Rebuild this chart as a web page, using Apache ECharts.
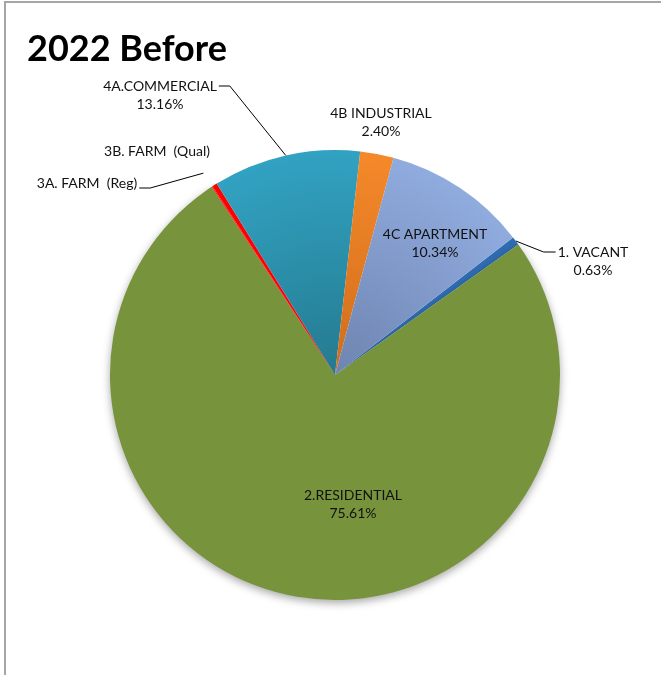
<!DOCTYPE html>
<html>
<head>
<meta charset="utf-8">
<script src="https://cdn.jsdelivr.net/npm/echarts@6/dist/echarts.min.js"></script>
<style>
  html, body { margin: 0; padding: 0; background: #fff; }
  #pieChart { width: 661px; height: 675px; }
  .frame {
    position: absolute; left: 4px; top: 1px; width: 700px; height: 700px;
    border-top: 2px solid #a6a6a6; border-left: 2px solid #a6a6a6;
    pointer-events: none;
  }
</style>
</head>
<body>
<div id="pieChart"></div>
<div class="frame"></div>
<script>
// slices in drawing order (clockwise), sizes
const categories = ['1. VACANT', '2.RESIDENTIAL', '3A. FARM  (Reg)', '3B. FARM  (Qual)', '4A.COMMERCIAL', '4B INDUSTRIAL', '4C APARTMENT']
const values = [0.63, 75.61, 0.08, 0.35, 10.6, 2.4, 10.34]
// percentage text printed on the chart (as shown, not recomputed)
const percentLabels = ['0.63%', '75.61%', '', '', '13.16%', '2.40%', '10.34%']

const center = [335, 375]
const radius = 225

// label block centers + which ones get a leader line ('left' = line leaves on the right of text)
const labelCenters = [[593, 261], [353, 504], [87, 183], [157, 151], [160, 95], [381, 122], [435, 243]]
const leaderSide = ['right', null, 'left', null, 'left', null, null]
const leaderGap = [0, 0, 16, 0, 0, 0, 0]

function shade(inner, outer) {
  return new echarts.graphic.RadialGradient(center[0], center[1], radius, [
    { offset: 0, color: inner },
    { offset: 1, color: outer },
  ], true)
}

const colors = [
  '#2f6db3',
  '#77933c',
  '#ff1a1a',
  '#ff0000',
  shade('#247a8f', '#32a2c2'),
  shade('#cf6d1c', '#f5892a'),
  shade('#6e84b0', '#90abde'),
]

const chart = echarts.init(document.getElementById('pieChart'))

const seriesData = categories.map((name, i) => ({
  name: name,
  value: values[i],
  itemStyle: i === 1
    ? { color: colors[i], shadowBlur: 8, shadowOffsetY: 3, shadowColor: 'rgba(0,0,0,0.35)' }
    : { color: colors[i] },
  labelLine: { show: !!leaderSide[i] },
}))

chart.setOption({
  animation: false,
  title: {
    text: '2022 Before',
    left: 22,
    top: 26,
    textStyle: { fontFamily: 'Lato', fontWeight: 'bold', fontSize: 36, color: '#000' },
  },
  series: [
    {
      type: 'pie',
      center: center,
      radius: radius,
      startAngle: 37.7,
      clockwise: true,
      avoidLabelOverlap: false,
      emphasis: { disabled: true },
      data: seriesData,
      label: {
        show: true,
        position: 'outside',
        fontFamily: 'Lato',
        fontSize: 14,
        lineHeight: 18,
        color: '#111',
        align: 'center',
        formatter: (p) => percentLabels[p.dataIndex] ? p.name + '\n' + percentLabels[p.dataIndex] : p.name,
      },
      labelLine: {
        show: true,
        length: 10,
        length2: 10,
        lineStyle: { color: '#000', width: 1 },
      },
      labelLayout: function (params) {
        const i = params.dataIndex
        const c = labelCenters[i]
        const res = { x: c[0], y: c[1], align: 'center', verticalAlign: 'middle' }
        const side = leaderSide[i]
        if (side && params.labelLinePoints) {
          const w = params.labelRect.width
          const h = params.labelRect.height
          const lineY = percentLabels[i] ? c[1] - h / 2 + 9 : c[1] + 5
          const endX = side === 'left' ? c[0] + w / 2 + 2 : c[0] - w / 2 - 2
          const elbowX = side === 'left' ? endX + 11 : endX - 12
          // push the start of the leader a bit outward along the slice's direction
          const p0 = params.labelLinePoints[0]
          const dx = p0[0] - center[0]
          const dy = p0[1] - center[1]
          const len = Math.sqrt(dx * dx + dy * dy) || 1
          const start = [p0[0] + dx / len * leaderGap[i], p0[1] + dy / len * leaderGap[i]]
          res.labelLinePoints = [start, [elbowX, lineY], [endX, lineY]]
        }
        return res
      },
    },
  ],
})
</script>
</body>
</html>
